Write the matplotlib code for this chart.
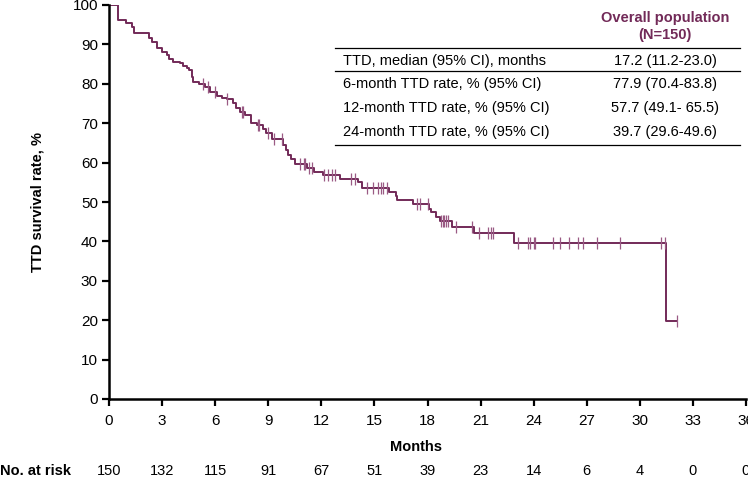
import numpy as np
import matplotlib.pyplot as plt
from matplotlib.lines import Line2D

plt.rcParams['font.family'] = ['Liberation Sans', 'DejaVu Sans']

# Kaplan-Meier steps (months, survival % after the drop)
step_times = [0.5, 0.95, 1.3, 1.4, 2.25, 2.45, 2.7, 3.0, 3.3, 3.4, 3.6, 4.0, 4.2, 4.4,
              4.5, 4.7, 4.75, 5.1, 5.4, 5.7, 6.1, 6.4, 6.65, 7.0, 7.2, 7.4, 7.7, 8.0,
              8.35, 8.7, 8.9, 9.2, 9.85, 10.0, 10.1, 10.3, 10.5, 11.2, 11.6, 12.1,
              13.05, 14.1, 14.3, 15.8, 16.2, 16.3, 17.2, 18.1, 18.2, 18.5, 18.7, 19.4,
              20.6, 22.9, 31.5]
step_surv = [96.2, 95.4, 94.4, 92.9, 91.6, 90.6, 89.1, 88.1, 87.3, 86.3, 85.5, 85.2,
             84.5, 84.0, 83.5, 81.8, 80.4, 80.0, 79.2, 78.0, 77.0, 76.5, 76.1, 75.2,
             73.9, 72.8, 72.1, 70.0, 69.5, 68.6, 67.5, 66.0, 64.5, 63.2, 61.9, 60.9,
             59.6, 58.6, 57.6, 56.9, 55.8, 55.1, 53.6, 52.5, 51.5, 50.5, 49.5, 48.2,
             47.5, 46.2, 45.2, 43.7, 42.1, 39.6, 19.8]
last_time = 32.1

censor_times = [5.3, 5.6, 6.0, 6.65, 7.5, 7.6, 8.4, 8.5, 9.0, 9.3, 9.8, 10.8, 11.0,
                11.1, 11.3, 11.5, 12.15, 12.4, 12.6, 12.8, 13.7, 13.9, 14.6, 14.9,
                15.2, 15.4, 15.5, 15.7, 17.4, 17.6, 18.05, 18.75, 18.85, 18.95, 19.05,
                19.15, 19.6, 20.5, 20.9, 21.4, 21.6, 21.7, 23.1, 23.7, 23.8, 24.0,
                24.1, 25.1, 25.5, 26.0, 26.5, 26.8, 27.6, 28.9, 31.2, 31.4, 32.1]

risk_times = [0, 3, 6, 9, 12, 15, 18, 21, 24, 27, 30, 33, 36]
at_risk = [150, 132, 115, 91, 67, 51, 39, 23, 14, 6, 4, 0, 0]

table_rows = ["TTD, median (95% CI), months",
              "6-month TTD rate, % (95% CI)",
              "12-month TTD rate, % (95% CI)",
              "24-month TTD rate, % (95% CI)"]
table_vals = ["17.2 (11.2-23.0)", "77.9 (70.4-83.8)",
              "57.7 (49.1- 65.5)", "39.7 (29.6-49.6)"]

curve_col = '#722a58'
W, H = 748, 483
fs = 10.5

fig = plt.figure(figsize=(7.48, 4.83), dpi=100)
ax = fig.add_axes([109 / W, 1 - 399 / H, (746 - 109) / W, (399 - 5) / H])

x = [0] + step_times + [last_time]
y = [100] + step_surv + [step_surv[-1]]
ax.step(x, y, where='post', color=curve_col, lw=1.4)

idx = np.searchsorted(step_times, censor_times, side='right')
full = np.array([100] + step_surv)
ax.plot(censor_times, full[idx], ls='none', marker='|', ms=8, mew=0.9,
        color='#9a5a84')

ax.set_xlim(0, 36)
ax.set_ylim(0, 100)
ax.set_xticks(range(0, 37, 3))
ax.set_yticks(range(0, 101, 10))
for s in ['top', 'right']:
    ax.spines[s].set_visible(False)
for s in ['left', 'bottom']:
    ax.spines[s].set_linewidth(1.8)
ax.tick_params(direction='out', length=5, width=1.6, labelsize=11, pad=3)
ax.tick_params(axis='x', pad=6)
ax.set_ylabel('TTD survival rate, %', fontsize=fs, fontweight='bold', labelpad=20)
fig.text(416 / W, 1 - 447 / H, 'Months', fontsize=fs, fontweight='bold',
         ha='center', va='center')

# number at risk
fig.text(0, 1 - 471 / H, 'No. at risk', fontsize=fs, fontweight='bold',
         ha='left', va='center')
for t, n in zip(risk_times, at_risk):
    ax.text(t, -(471 - 399) / (399 - 5), str(n),
            transform=ax.get_xaxis_transform(), fontsize=fs,
            ha='center', va='center')

# summary table
fig.text(665 / W, 1 - 18 / H, 'Overall population', fontsize=fs,
         fontweight='bold', color=curve_col, ha='center', va='center')
fig.text(665 / W, 1 - 35 / H, '(N=150)', fontsize=fs, fontweight='bold',
         color=curve_col, ha='center', va='center')
row_y = [61, 84, 108, 132]
for ry, lab, val in zip(row_y, table_rows, table_vals):
    fig.text(343 / W, 1 - ry / H, lab, fontsize=fs, ha='left', va='center')
    fig.text(665 / W, 1 - ry / H, val, fontsize=fs, ha='center', va='center')
for ly in [48, 71, 145]:
    fig.add_artist(Line2D([335 / W, 740 / W], [1 - ly / H, 1 - ly / H],
                          color='black', lw=0.9, transform=fig.transFigure))

fig.savefig('out.png', dpi=100)
